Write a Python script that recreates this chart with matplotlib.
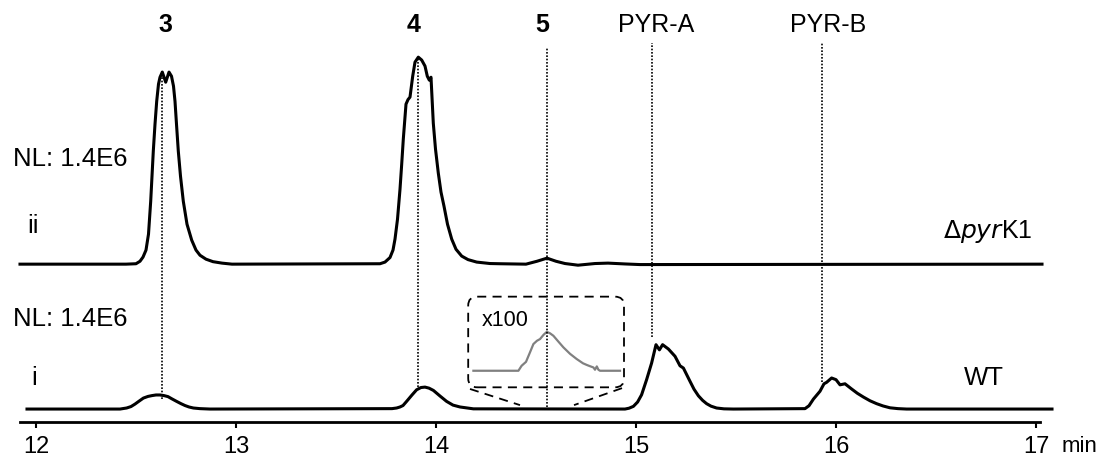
import matplotlib as mpl
mpl.use('Agg')

import matplotlib.pyplot as plt
from matplotlib.patches import FancyBboxPatch

plt.rcParams['font.family'] = ['Liberation Sans', 'DejaVu Sans']

# Trace ii (delta pyrK1): retention time (min) and relative abundance (%)
mut_time = [11.92, 12.45, 12.50, 12.52, 12.535, 12.55, 12.5625, 12.5735, 12.58, 12.5865,
            12.595, 12.6035, 12.6125, 12.62, 12.6315, 12.6485, 12.665, 12.6775, 12.6875,
            12.695, 12.7025, 12.7115, 12.7225, 12.7365, 12.755, 12.7785, 12.80, 12.82,
            12.85, 12.885, 12.93, 12.98,
            13.72, 13.745, 13.77, 13.785, 13.795, 13.8075, 13.82, 13.8285, 13.8365, 13.85,
            13.86, 13.87, 13.8835, 13.895, 13.9115, 13.9285, 13.945, 13.9565, 13.9665,
            13.975, 13.9865, 13.9975, 14.0115, 14.025, 14.04, 14.0575, 14.0785, 14.10,
            14.1285, 14.16, 14.2035, 14.27,
            14.32, 14.45, 14.505, 14.555, 14.6, 14.645, 14.71, 14.795,
            14.86, 14.945, 15.02, 17.03]
mut_abund = [0, 0, 0.2, 1.4, 3.4, 6.8, 14.5, 30.4, 42.5, 54.6,
             67.6, 78.7, 87.0, 90.3, 92.8, 87.9, 92.8, 90.8, 86.0,
             78.7, 67.6, 54.6, 42.5, 30.4, 19.3, 11.6, 6.8, 4.3,
             2.4, 1.2, 0.5, 0,
             0.2, 1.0, 3.2, 6.8, 12.1, 21.7, 36.2, 48.3, 60.4, 77.3,
             79.5, 80.7, 90.8, 97.6, 100, 98.6, 95.7, 90.8, 88.9,
             90.3, 68.1, 55.6, 44.0, 34.8, 28.0, 19.3, 12.1, 7.2,
             3.9, 2.2, 1.0, 0.3,
             0.2, 0, 1.4, 2.9, 1.4, 0.3, -0.5, 0.3,
             0.5, 0.1, -0.2, 0]

# Trace i (WT)
wt_time = [11.955, 12.42, 12.453, 12.475, 12.495, 12.515, 12.537, 12.56, 12.58, 12.60,
           12.62, 12.64, 12.66, 12.68, 12.703, 12.725, 12.745, 12.765, 12.787, 12.82,
           12.87, 13.78, 13.803, 13.82, 13.835, 13.853, 13.88, 13.903, 13.925, 13.945,
           13.965, 13.987, 14.02, 14.053, 14.085, 14.12, 14.187, 14.945, 14.965, 14.987,
           15.008, 15.028, 15.053, 15.078, 15.1, 15.117, 15.133, 15.162, 15.195, 15.22,
           15.237, 15.27, 15.29, 15.312, 15.333, 15.353, 15.375, 15.403, 15.44, 15.487,
           15.845, 15.865, 15.887, 15.92, 15.94, 15.953, 15.978, 16.0, 16.02, 16.045,
           16.078, 16.107, 16.137, 16.17, 16.203, 16.235, 16.27, 16.31, 16.353, 17.08]
wt_abund = [0, 0, 0.5, 1.2, 2.4, 3.8, 5.3, 6.1, 6.5, 6.8,
            6.8, 6.5, 6.0, 4.9, 3.7, 2.6, 1.7, 1.0, 0.5, 0.2,
            0, 0.2, 0.5, 1.0, 1.7, 3.7, 6.8, 9.3, 10.4, 10.6,
            10.1, 9.0, 6.3, 3.7, 1.9, 1.0, 0.1, 0, 0.4, 1.3,
            3.4, 6.9, 14.2, 22.2, 31.1, 28.6, 31.1, 29.0, 25.5, 20.9,
            19.8, 13.4, 9.6, 6.4, 4.2, 2.6, 1.4, 0.5, 0.1, 0,
            0.2, 1.6, 4.8, 8.6, 12.2, 12.9, 15.0, 14.2, 11.7, 12.2,
            9.7, 7.6, 5.8, 4.0, 2.6, 1.5, 0.6, 0.2, 0, 0]

# WT around compound 5, magnified x100
zoom_time = [14.187, 14.412, 14.428, 14.45, 14.47, 14.487, 14.505, 14.52, 14.538, 14.554,
             14.57, 14.587, 14.61, 14.637, 14.67, 14.703, 14.735, 14.754, 14.77, 14.787,
             14.795, 14.804, 14.812, 14.82, 14.92]
zoom_abund = [0, 0, 2.4, 4.3, 8.9, 12.9, 14.5, 15.3, 17.4, 18.8,
              18.1, 16.9, 14.3, 11.3, 8.2, 5.7, 3.6, 2.8, 2.2, 1.6,
              0.5, 2.1, 0.5, 0, 0]

# peak markers
peak_labels = ['3', '4', '5', 'PYR-A', 'PYR-B']
peak_times = [12.632, 13.912, 14.554, 15.078, 15.932]
label_times = [12.648, 13.887, 14.53, 15.10, 15.96]
line_top = [163.4, 169.1, 174.3, 176.7, 176.7]
line_bottom = [4.8, 10.5, 0.8, 34.6, 12.9]

ticks = [12, 13, 14, 15, 16, 17]

# vertical placement of the stacked traces
offset_ii = 70.0
offset_zoom = 18.5

fig = plt.figure(figsize=(11.1, 4.56), dpi=100)
ax = fig.add_axes([0, 0, 1, 1])
ax.set_xlim(11.82, 17.37)
ax.set_ylim(-22.2, 198.1)

ax.plot(mut_time, [v + offset_ii for v in mut_abund], color='black', lw=2.2,
        solid_joinstyle='round')
ax.plot(wt_time, wt_abund, color='black', lw=2.2, solid_joinstyle='round')
ax.plot(zoom_time, [v + offset_zoom for v in zoom_abund], color='#808080', lw=1.6)

for t, top, bot in zip(peak_times, line_top, line_bottom):
    ax.plot([t, t], [bot, top], color='black', lw=1.2, linestyle=(0, (1, 1)))

for lab, t in zip(peak_labels, label_times):
    bold = 'bold' if lab.isdigit() else 'normal'
    ax.text(t, 186, lab, ha='center', va='center', fontsize=18, fontweight=bold)

# magnified box
box = FancyBboxPatch((14.161, 10.5), 0.779, 43.8,
                     boxstyle='round,pad=0,rounding_size=0.045',
                     mutation_aspect=95, fill=False, ec='black', lw=1.3,
                     linestyle=(0, (5, 3.5)))
ax.add_patch(box)
ax.plot([14.17, 14.42], [9.7, 1.9], color='black', lw=1.3, linestyle=(0, (5, 3.5)))
ax.plot([14.93, 14.69], [10.1, 1.9], color='black', lw=1.3, linestyle=(0, (5, 3.5)))
ax.text(14.228, 43.5, 'x100', ha='left', va='center', fontsize=15.5)

# trace annotations
ax.text(11.883, 121.3, 'NL: 1.4E6', ha='left', va='center', fontsize=18.5)
ax.text(11.883, 44.0, 'NL: 1.4E6', ha='left', va='center', fontsize=18.5)
ax.text(11.955, 88.9, 'ii', ha='left', va='center', fontsize=18.5)
ax.text(11.975, 15.5, 'i', ha='left', va='center', fontsize=18.5)
ax.text(16.533, 86.5, r'$\Delta$' + r'$\it{pyr}$' + 'K1', ha='left', va='center',
        fontsize=18)
ax.text(16.64, 15.5, 'WT', ha='left', va='center', fontsize=18.5)

# x axis
for s in ['top', 'left', 'right']:
    ax.spines[s].set_visible(False)
ax.spines['bottom'].set_position(('data', -6.3))
ax.spines['bottom'].set_bounds(11.92, 17.02)
ax.spines['bottom'].set_linewidth(2.0)
ax.set_xticks(ticks)
ax.set_xticklabels([str(t) for t in ticks])
ax.tick_params(axis='x', direction='out', length=4, width=1.5, labelsize=17, pad=5)
ax.set_yticks([])
ax.text(17.13, -17.5, 'min', ha='left', va='center', fontsize=16)

fig.savefig('out.png', dpi=100)
plt.close()
